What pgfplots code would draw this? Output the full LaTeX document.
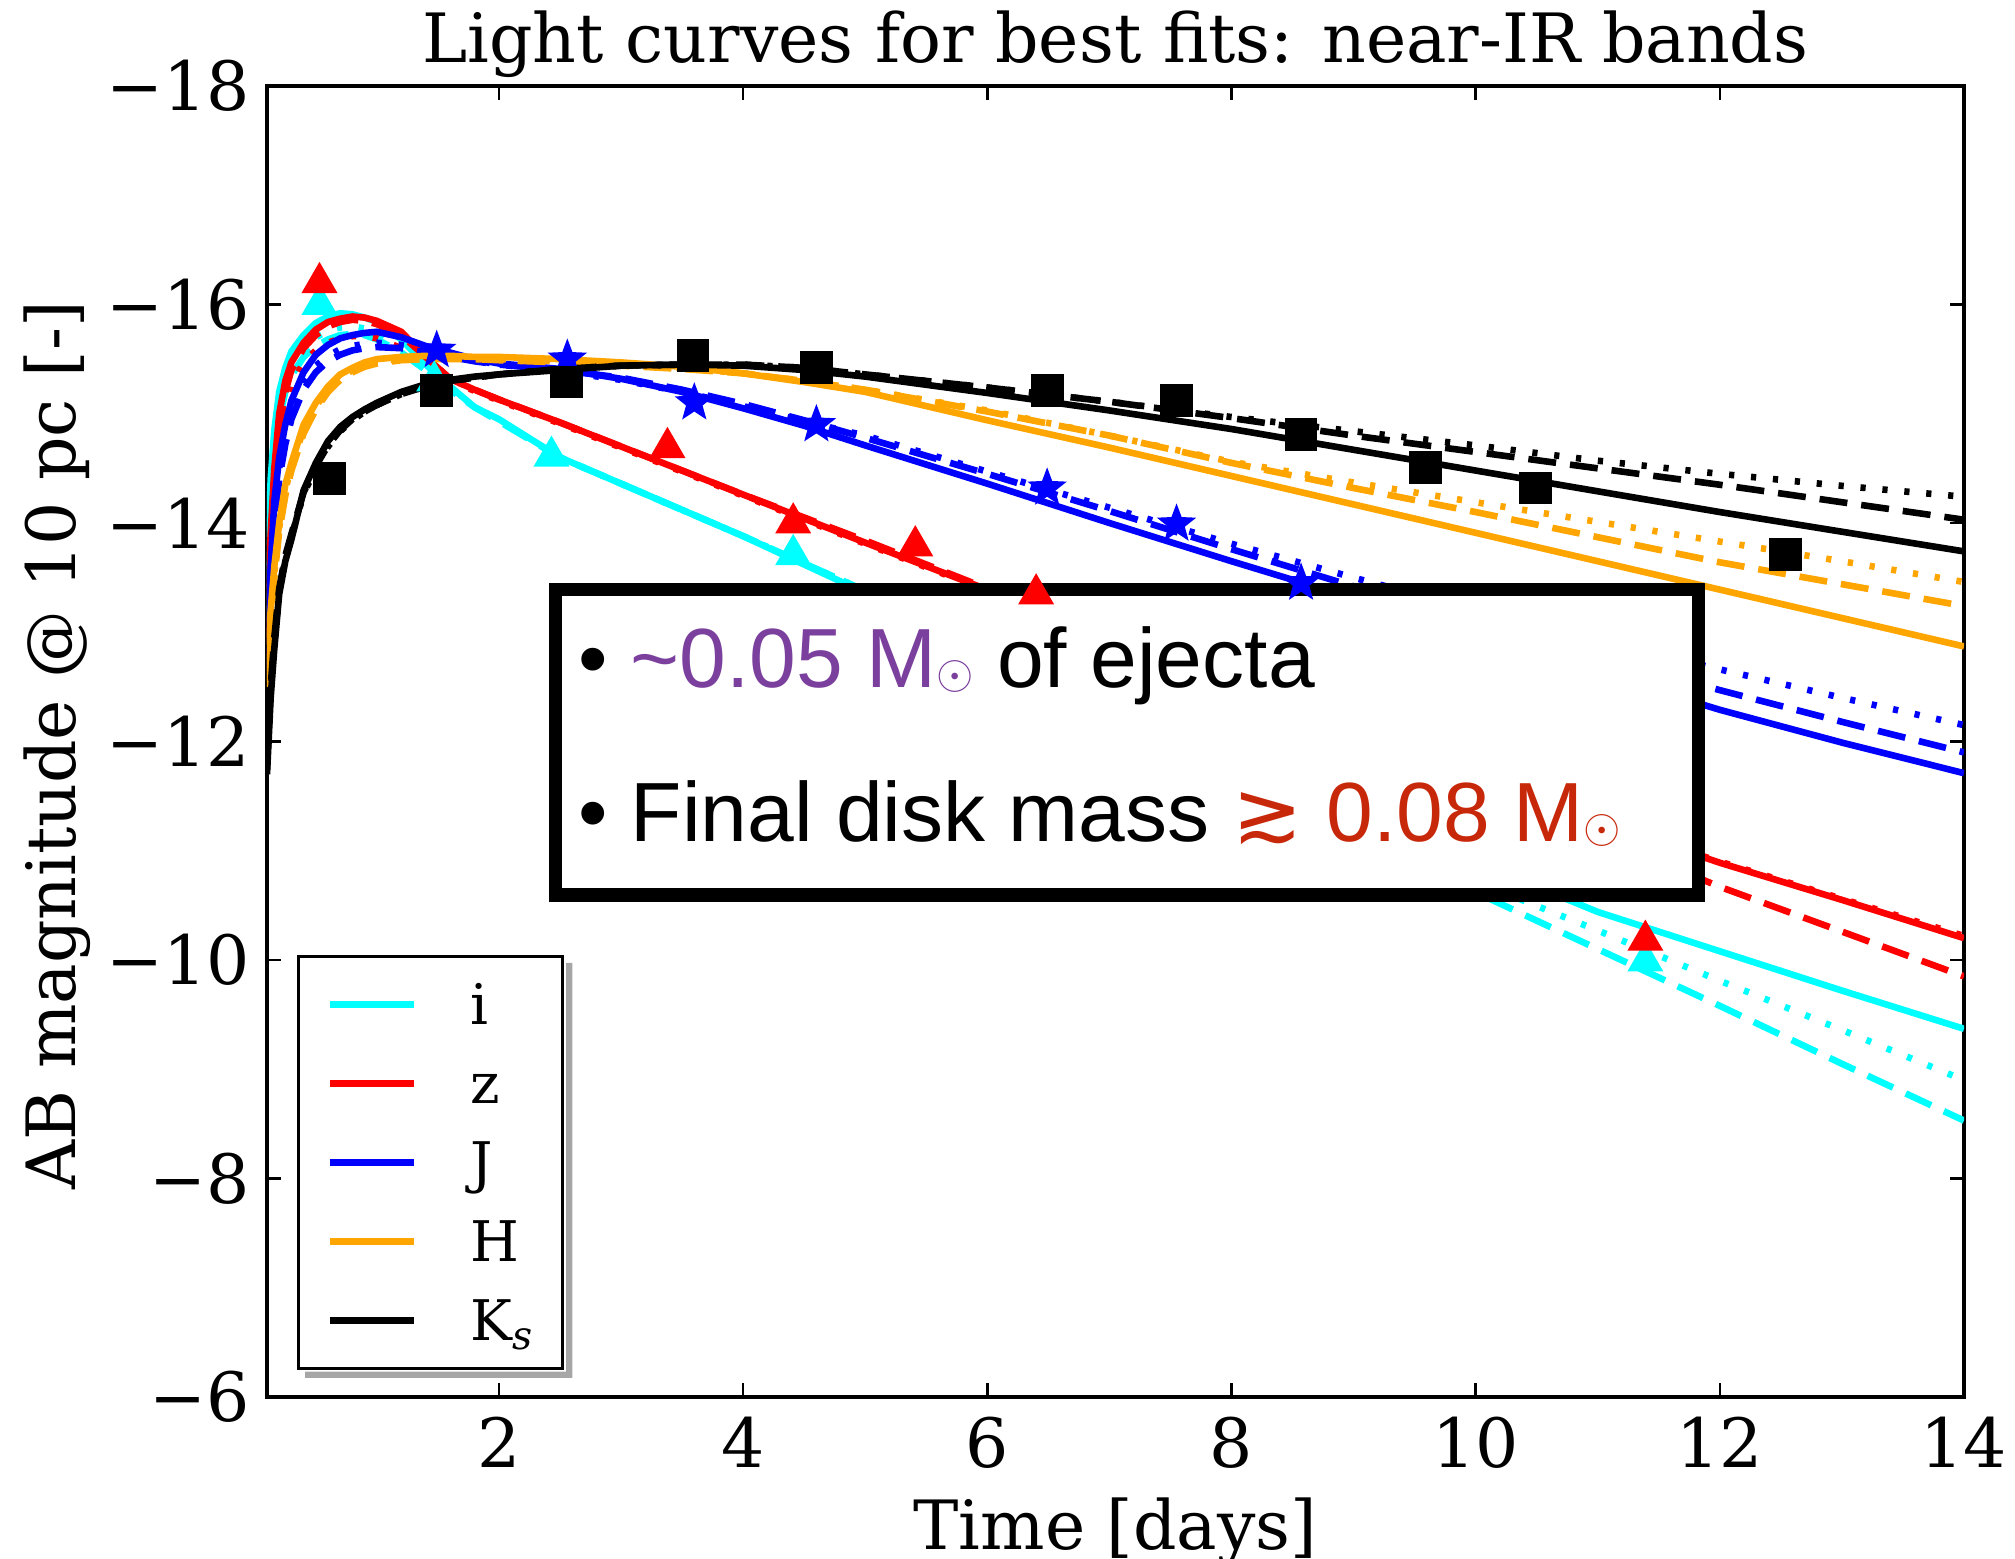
\documentclass[border=0pt]{standalone}
\usepackage{amssymb}
\usepackage{fontspec}
\setmainfont{DejaVu Serif}
\newfontfamily\boxfont{Liberation Sans}
\newfontfamily\dvsans{DejaVu Sans}
\usepackage{pgfplots}
\pgfplotsset{compat=1.18}
\usepackage{pgfplotstable}

\definecolor{cI}{RGB}{0,255,255}
\definecolor{cZ}{RGB}{255,0,0}
\definecolor{cJ}{RGB}{0,0,255}
\definecolor{cH}{RGB}{255,165,0}
\definecolor{txtpurple}{RGB}{123,63,158}
\definecolor{txtred}{RGB}{200,40,10}

\pgfdeclareplotmark{fstar}{%
 \pgfpathmoveto{\pgfpointpolar{90}{\pgfplotmarksize}}%
 \pgfpathlineto{\pgfpointpolar{126}{0.42\pgfplotmarksize}}%
 \pgfpathlineto{\pgfpointpolar{162}{\pgfplotmarksize}}%
 \pgfpathlineto{\pgfpointpolar{198}{0.42\pgfplotmarksize}}%
 \pgfpathlineto{\pgfpointpolar{234}{\pgfplotmarksize}}%
 \pgfpathlineto{\pgfpointpolar{270}{0.42\pgfplotmarksize}}%
 \pgfpathlineto{\pgfpointpolar{306}{\pgfplotmarksize}}%
 \pgfpathlineto{\pgfpointpolar{342}{0.42\pgfplotmarksize}}%
 \pgfpathlineto{\pgfpointpolar{18}{\pgfplotmarksize}}%
 \pgfpathlineto{\pgfpointpolar{54}{0.42\pgfplotmarksize}}%
 \pgfpathclose
 \pgfusepathqfillstroke}

\tikzset{
 sol/.style={line width=1.65pt, solid},
 dsh/.style={line width=1.65pt, dash pattern=on 7pt off 3.5pt},
 dot/.style={line width=1.65pt, dash pattern=on 1.3pt off 4.2pt},
}

% columns: x, solid, dashed, dotted
\pgfplotstableread{
x s d o
0.10 -13.3 -13.1 -13.2
0.13 -14.4 -14.1 -14.25
0.16 -14.85 -14.6 -14.72
0.20 -15.2 -14.95 -15.05
0.25 -15.42 -15.2 -15.3
0.30 -15.57 -15.35 -15.45
0.40 -15.72 -15.52 -15.6
0.50 -15.83 -15.62 -15.7
0.60 -15.89 -15.68 -15.76
0.70 -15.92 -15.72 -15.79
0.80 -15.91 -15.73 -15.8
0.90 -15.88 -15.72 -15.78
1.0 -15.84 -15.68 -15.74
1.2 -15.68 -15.56 -15.6
1.4 -15.45 -15.4 -15.42
1.6 -15.25 -15.22 -15.23
1.8 -15.06 -15.06 -15.06
2.0 -14.95 -14.93 -14.94
2.5 -14.6 -14.6 -14.6
3.0 -14.36 -14.36 -14.36
3.5 -14.12 -14.12 -14.12
4.0 -13.88 -13.88 -13.88
4.5 -13.62 -13.63 -13.63
5.0 -13.36 -13.38 -13.38
6 -12.87 -12.84 -12.88
7 -12.37 -12.29 -12.35
8 -11.88 -11.74 -11.8
9 -11.39 -11.18 -11.26
10 -10.9 -10.62 -10.72
11 -10.44 -10.1 -10.27
12 -10.08 -9.58 -9.81
13 -9.72 -9.05 -9.36
14 -9.37 -8.53 -8.9
}\tabI

\pgfplotstableread{
x s d o
0.10 -13.0 -12.9 -12.8
0.13 -13.9 -13.8 -13.7
0.16 -14.5 -14.35 -14.25
0.20 -15.0 -14.85 -14.75
0.25 -15.3 -15.2 -15.08
0.30 -15.47 -15.4 -15.27
0.40 -15.65 -15.6 -15.47
0.50 -15.77 -15.72 -15.58
0.60 -15.84 -15.8 -15.65
0.70 -15.87 -15.84 -15.69
0.80 -15.89 -15.86 -15.71
0.90 -15.88 -15.85 -15.71
1.0 -15.85 -15.82 -15.69
1.2 -15.75 -15.72 -15.6
1.4 -15.52 -15.52 -15.45
1.6 -15.32 -15.32 -15.3
1.8 -15.22 -15.22 -15.21
2.0 -15.13 -15.13 -15.12
2.5 -14.92 -14.92 -14.91
3.0 -14.7 -14.7 -14.69
3.5 -14.48 -14.48 -14.47
4.0 -14.26 -14.26 -14.25
4.5 -14.04 -14.05 -14.03
5.0 -13.82 -13.84 -13.81
6 -13.39 -13.4 -13.38
7 -12.97 -12.93 -12.96
8 -12.55 -12.48 -12.54
9 -12.13 -12.03 -12.12
10 -11.7 -11.58 -11.69
11 -11.27 -11.13 -11.26
12 -10.89 -10.67 -10.9
13 -10.55 -10.26 -10.56
14 -10.2 -9.85 -10.22
}\tabZ

\pgfplotstableread{
x s d o
0.10 -12.8 -12.6 -12.7
0.13 -13.6 -13.4 -13.5
0.16 -14.2 -14.0 -14.1
0.20 -14.6 -14.4 -14.5
0.25 -14.9 -14.72 -14.8
0.30 -15.12 -14.95 -15.02
0.40 -15.38 -15.22 -15.28
0.50 -15.54 -15.38 -15.44
0.60 -15.63 -15.48 -15.53
0.70 -15.69 -15.54 -15.59
0.80 -15.72 -15.58 -15.62
0.90 -15.74 -15.6 -15.64
1.0 -15.75 -15.61 -15.65
1.2 -15.7 -15.6 -15.63
1.4 -15.62 -15.56 -15.58
1.6 -15.56 -15.52 -15.53
1.8 -15.5 -15.48 -15.49
2.0 -15.46 -15.45 -15.45
2.5 -15.41 -15.4 -15.39
3.0 -15.32 -15.33 -15.31
3.5 -15.2 -15.22 -15.2
4.0 -15.05 -15.09 -15.07
4.5 -14.89 -14.94 -14.93
5.0 -14.71 -14.78 -14.8
6 -14.36 -14.45 -14.47
7 -14.0 -14.11 -14.14
8 -13.65 -13.76 -13.81
9 -13.31 -13.42 -13.5
10 -12.97 -13.09 -13.2
11 -12.63 -12.78 -12.92
12 -12.29 -12.47 -12.66
13 -11.99 -12.18 -12.4
14 -11.71 -11.9 -12.15
}\tabJ

\pgfplotstableread{
x s d o
0.10 -12.6 -12.5 -12.55
0.13 -13.2 -13.1 -13.15
0.16 -13.6 -13.5 -13.55
0.20 -14.0 -13.92 -13.96
0.25 -14.35 -14.25 -14.3
0.30 -14.55 -14.48 -14.52
0.40 -14.9 -14.82 -14.86
0.50 -15.1 -15.04 -15.07
0.60 -15.25 -15.2 -15.22
0.70 -15.36 -15.31 -15.33
0.80 -15.42 -15.38 -15.4
0.90 -15.47 -15.43 -15.45
1.0 -15.5 -15.46 -15.48
1.2 -15.52 -15.49 -15.5
1.4 -15.53 -15.5 -15.51
1.6 -15.53 -15.5 -15.51
1.8 -15.52 -15.5 -15.51
2.0 -15.52 -15.49 -15.5
2.5 -15.5 -15.47 -15.48
3.0 -15.47 -15.44 -15.45
3.5 -15.43 -15.41 -15.42
4.0 -15.37 -15.37 -15.37
4.5 -15.29 -15.3 -15.3
5.0 -15.2 -15.22 -15.22
6 -14.94 -15.02 -15.03
7 -14.69 -14.8 -14.8
8 -14.43 -14.55 -14.56
9 -14.17 -14.32 -14.37
10 -13.91 -14.1 -14.19
11 -13.65 -13.87 -14.01
12 -13.39 -13.64 -13.83
13 -13.13 -13.44 -13.65
14 -12.87 -13.24 -13.46
}\tabH

\pgfplotstableread{
x s d o
0.10 -11.7 -11.8 -11.75
0.13 -12.4 -12.5 -12.45
0.16 -12.85 -12.95 -12.9
0.20 -13.35 -13.4 -13.37
0.25 -13.65 -13.7 -13.67
0.30 -13.85 -13.9 -13.87
0.40 -14.3 -14.28 -14.27
0.50 -14.55 -14.52 -14.5
0.60 -14.75 -14.71 -14.7
0.70 -14.88 -14.85 -14.84
0.80 -14.97 -14.95 -14.94
0.90 -15.04 -15.02 -15.02
1.0 -15.1 -15.08 -15.08
1.2 -15.2 -15.18 -15.18
1.4 -15.27 -15.25 -15.25
1.6 -15.31 -15.3 -15.3
1.8 -15.34 -15.33 -15.33
2.0 -15.36 -15.36 -15.36
2.5 -15.4 -15.41 -15.41
3.0 -15.44 -15.44 -15.44
3.5 -15.45 -15.45 -15.45
4.0 -15.44 -15.45 -15.45
4.5 -15.4 -15.42 -15.42
5.0 -15.34 -15.36 -15.36
6 -15.19 -15.24 -15.24
7 -15.03 -15.11 -15.11
8 -14.86 -14.96 -14.97
9 -14.67 -14.8 -14.84
10 -14.48 -14.65 -14.71
11 -14.29 -14.5 -14.57
12 -14.1 -14.35 -14.45
13 -13.92 -14.19 -14.34
14 -13.74 -14.03 -14.24
}\tabK

% observed points
\pgfplotstableread{
x y
0.53 -16.0
1.47 -15.3
2.43 -14.61
4.41 -13.71
11.39 -9.99
}\obsI
\pgfplotstableread{
x y
0.53 -16.2
3.38 -14.69
4.41 -14.0
5.41 -13.79
6.40 -13.35
11.39 -10.18
}\obsZ
\pgfplotstableread{
x y
1.49 -15.58
2.56 -15.5
3.60 -15.1
4.60 -14.9
6.49 -14.32
7.55 -13.99
8.57 -13.45
}\obsJ
\pgfplotstableread{
x y
0.61 -14.41
1.49 -15.21
2.55 -15.29
3.59 -15.53
4.60 -15.42
6.49 -15.21
7.55 -15.12
8.57 -14.81
9.59 -14.51
10.49 -14.32
12.54 -13.71
}\obsK

\begin{document}
\begin{tikzpicture}
\begin{axis}[
  scale only axis,
  width=424.25pt, height=327.75pt,
  xmin=0.1, xmax=14, ymin=-18, ymax=-6,
  y dir=reverse,
  xtick={2,4,6,8,10,12,14},
  xticklabels={2,4,6,8,10,12,14},
  ytick={-18,-16,-14,-12,-10,-8,-6},
  yticklabels={−18,−16,−14,−12,−10,−8,−6},
  ticklabel style={font=\fontsize{17}{20}\selectfont},
  xticklabel style={inner sep=0pt, yshift=-4.75pt},
  yticklabel style={inner sep=0pt, xshift=-4pt},
  tick align=inside,
  major tick length=3.5pt,
  tick style={black, line width=0.6pt},
  axis line style={line width=1.1pt},
  title={Light curves for best fits: near-IR bands},
  title style={font=\fontsize{17}{20}\selectfont, at={(axis description cs:0.5,1)}, anchor=base, yshift=-0.25pt, inner sep=0pt},
  xlabel={Time [days]},
  xlabel style={font=\fontsize{17}{20}\selectfont, at={(axis description cs:0.5,0)}, anchor=base, yshift=-38.25pt, inner sep=0pt},
  ylabel={AB magnitude @ 10 pc [-]},
  ylabel style={font=\fontsize{17}{20}\selectfont, at={(axis description cs:-0.1131,0.497)}, anchor=base, inner sep=0pt},
  legend image code/.code={\draw[#1] (0pt,0pt) -- (21pt,0pt);},
  legend style={name=leg, at={(axis description cs:0.0177,0.0206)}, anchor=south west,
    draw=black, line width=0.8pt, fill=white,
    font=\fontsize{14}{16}\selectfont,
    inner xsep=7pt, inner ysep=7pt, row sep=9.75pt, column sep=13.4pt,
    cells={anchor=west},
    nodes={inner sep=0pt, text height=10pt, text depth=0pt, text width=16pt, align=left}},
]
% i band
\addplot[cI, sol, forget plot] table[x=x,y=s]{\tabI};
\addplot[cI, dsh, forget plot] table[x=x,y=d]{\tabI};
\addplot[cI, dot, forget plot] table[x=x,y=o]{\tabI};
\addplot[cI, only marks, mark=triangle*, mark size=4.8pt, forget plot] table[x=x,y=y]{\obsI};
% z band
\addplot[cZ, sol, forget plot] table[x=x,y=s]{\tabZ};
\addplot[cZ, dsh, forget plot] table[x=x,y=d]{\tabZ};
\addplot[cZ, dot, forget plot] table[x=x,y=o]{\tabZ};
\addplot[cZ, only marks, mark=triangle*, mark size=4.8pt, forget plot] table[x=x,y=y]{\obsZ};
% J band
\addplot[cJ, sol, forget plot] table[x=x,y=s]{\tabJ};
\addplot[cJ, dsh, forget plot] table[x=x,y=d]{\tabJ};
\addplot[cJ, dot, forget plot] table[x=x,y=o]{\tabJ};
\addplot[cJ, only marks, mark=fstar, mark size=4.6pt, forget plot] table[x=x,y=y]{\obsJ};
% H band
\addplot[cH, sol, forget plot] table[x=x,y=s]{\tabH};
\addplot[cH, dsh, forget plot] table[x=x,y=d]{\tabH};
\addplot[cH, dot, forget plot] table[x=x,y=o]{\tabH};
% Ks band
\addplot[black, sol, forget plot] table[x=x,y=s]{\tabK};
\addplot[black, dsh, forget plot] table[x=x,y=d]{\tabK};
\addplot[black, dot, forget plot] table[x=x,y=o]{\tabK};
\addplot[black, only marks, mark=square*, mark size=3.9pt, forget plot] table[x=x,y=y]{\obsK};

\addlegendimage{cI, line width=1.65pt}
\addlegendentry{i}
\addlegendimage{cZ, line width=1.65pt}
\addlegendentry{z}
\addlegendimage{cJ, line width=1.65pt}
\addlegendentry{J}
\addlegendimage{cH, line width=1.65pt}
\addlegendentry{H}
\addlegendimage{black, line width=1.65pt}
\addlegendentry{K\textsubscript{\itshape s}}

\draw[line width=3.3pt, fill=white] (axis cs:2.464,-13.393) rectangle (axis cs:11.824,-10.595);
\node[anchor=base west, inner sep=0pt, font=\boxfont\fontsize{21}{25}\selectfont] at (axis cs:2.641,-12.496)
  {\textbullet\ \textcolor{txtpurple}{\textasciitilde 0.05 M\raisebox{-0.3pt}{\fontsize{12}{12}\selectfont$\odot$}} of ejecta};
\node[anchor=base west, inner sep=0pt, font=\boxfont\fontsize{21}{25}\selectfont] at (axis cs:2.641,-11.083)
  {\textbullet\ Final disk mass \textcolor{txtred}{{\dvsans ≳} 0.08 M\raisebox{-0.3pt}{\fontsize{12}{12}\selectfont$\odot$}}};
\end{axis}
\fill[black!35] ([xshift=2pt,yshift=-2pt]leg.south west) -- ([xshift=2pt,yshift=-2pt]leg.south east)
  -- ([xshift=2pt,yshift=-2pt]leg.north east) -- ([xshift=0.4pt,yshift=-2pt]leg.north east)
  -- ([xshift=0.4pt,yshift=-0.4pt]leg.south east) -- ([xshift=2pt,yshift=-0.4pt]leg.south west) -- cycle;
\pgfresetboundingbox
\path[use as bounding box] ([xshift=-66.75pt,yshift=-40.5pt]current axis.south west) rectangle ([xshift=12.75pt,yshift=21.5pt]current axis.north east);
\end{tikzpicture}
\end{document}
